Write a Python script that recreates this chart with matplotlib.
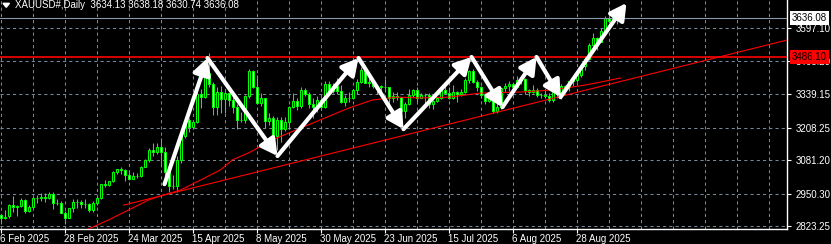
import matplotlib
matplotlib.use('Agg')
import matplotlib.pyplot as plt
import numpy as np
import pandas as pd

plt.rcParams['font.family'] = ['Liberation Sans', 'DejaVu Sans']

# daily bars, 6 Feb 2025 .. 12 Sep 2025 (no Good Friday bar)
dates = pd.bdate_range('2025-02-06', '2025-09-12')
dates = dates[dates != pd.Timestamp('2025-04-18')]

opens = [2866, 2856, 2862, 2908, 2898, 2904, 2928, 2882, 2898, 2935, 2934, 2939, 2935, 2951, 2914, 2916, 2876,
         2857, 2893, 2918, 2919, 2910, 2910, 2888, 2916, 2934, 2988, 2984, 3001, 3034, 3048, 3044, 3023, 3010, 3019,
         3018, 3056, 3084, 3123, 3113, 3133, 3113, 3037, 2982, 2982, 3082, 3175, 3237, 3210, 3230, 3342, 3327, 3424,
         3381, 3288, 3349, 3319, 3343, 3317, 3288, 3238, 3240, 3333, 3430, 3366, 3306, 3325, 3235, 3248, 3178, 3240,
         3202, 3230, 3290, 3314, 3294, 3357, 3342, 3301, 3288, 3318, 3289, 3381, 3353, 3373, 3352, 3310, 3326, 3323,
         3355, 3387, 3433, 3385, 3389, 3370, 3370, 3368, 3368, 3323, 3333, 3328, 3274, 3303, 3338, 3357, 3326, 3337,
         3336, 3301, 3313, 3324, 3355, 3343, 3324, 3348, 3339, 3350, 3397, 3431, 3387, 3368, 3337, 3314, 3326, 3274,
         3290, 3362, 3373, 3380, 3369, 3397, 3398, 3355, 3348, 3356, 3335, 3336, 3332, 3315, 3348, 3339, 3372, 3366,
         3393, 3396, 3416, 3448, 3476, 3533, 3560, 3545, 3586, 3637, 3626, 3641, 3634.13]
highs = [2870, 2886, 2911, 2942, 2908, 2935, 2930, 2906, 2935, 2947, 2954, 2952, 2956, 2956, 2930, 2922, 2882,
         2896, 2929, 2930, 2926, 2930, 2915, 2922, 2940, 2990, 3005, 3002, 3038, 3049, 3057, 3048, 3035, 3036, 3033,
         3059, 3087, 3128, 3149, 3148, 3167, 3135, 3055, 3023, 3099, 3176, 3245, 3245, 3233, 3357, 3358, 3430, 3500,
         3386, 3367, 3371, 3351, 3344, 3328, 3300, 3269, 3336, 3437, 3435, 3414, 3346, 3325, 3265, 3253, 3252, 3252,
         3250, 3295, 3345, 3325, 3366, 3365, 3350, 3325, 3331, 3325, 3393, 3392, 3385, 3403, 3375, 3338, 3349, 3360,
         3398, 3446, 3452, 3403, 3395, 3375, 3375, 3398, 3369, 3347, 3350, 3329, 3310, 3358, 3358, 3366, 3345, 3343,
         3345, 3318, 3330, 3369, 3375, 3366, 3377, 3352, 3361, 3402, 3433, 3438, 3394, 3373, 3345, 3334, 3334, 3315,
         3363, 3385, 3390, 3385, 3409, 3400, 3404, 3358, 3375, 3365, 3345, 3358, 3345, 3350, 3351, 3379, 3376, 3393,
         3398, 3423, 3454, 3490, 3540, 3578, 3564, 3600, 3646, 3674, 3658, 3644, 3638.18]
lows = [2834, 2853, 2854, 2880, 2864, 2899, 2876, 2880, 2896, 2915, 2922, 2918, 2929, 2890, 2905, 2875, 2832,
        2856, 2880, 2895, 2895, 2895, 2880, 2881, 2906, 2930, 2977, 2982, 2997, 3028, 3028, 2999, 3003, 3008, 3013,
        3016, 3055, 3076, 3100, 3105, 3054, 3015, 2956, 2970, 2957, 3072, 3168, 3193, 3205, 3228, 3284, 3326, 3367,
        3260, 3260, 3266, 3268, 3295, 3268, 3202, 3229, 3226, 3323, 3365, 3300, 3292, 3207, 3219, 3171, 3121, 3154,
        3196, 3204, 3285, 3277, 3287, 3331, 3285, 3245, 3270, 3279, 3285, 3343, 3343, 3339, 3306, 3293, 3311, 3320,
        3341, 3385, 3385, 3366, 3363, 3340, 3340, 3347, 3295, 3311, 3317, 3255, 3247, 3296, 3329, 3311, 3324, 3296,
        3287, 3283, 3310, 3322, 3341, 3320, 3320, 3310, 3333, 3345, 3383, 3382, 3351, 3325, 3301, 3308, 3268, 3268,
        3280, 3347, 3353, 3358, 3366, 3378, 3341, 3331, 3345, 3330, 3325, 3323, 3311, 3311, 3325, 3322, 3351, 3352,
        3371, 3386, 3408, 3436, 3475, 3526, 3511, 3543, 3578, 3620, 3620, 3613, 3630.74]
closes = [2856, 2861, 2908, 2898, 2904, 2928, 2882, 2898, 2935, 2934, 2939, 2935, 2951, 2914, 2916, 2876, 2857,
          2893, 2918, 2919, 2910, 2910, 2888, 2916, 2934, 2988, 2984, 3001, 3034, 3048, 3044, 3023, 3010, 3019, 3018,
          3056, 3084, 3123, 3113, 3133, 3113, 3037, 2982, 2982, 3082, 3175, 3237, 3210, 3230, 3342, 3327, 3424, 3381,
          3288, 3349, 3319, 3343, 3317, 3288, 3238, 3240, 3333, 3430, 3366, 3306, 3325, 3235, 3248, 3178, 3240, 3202,
          3230, 3290, 3314, 3294, 3357, 3342, 3301, 3288, 3318, 3289, 3381, 3353, 3373, 3352, 3310, 3326, 3323, 3355,
          3387, 3433, 3385, 3389, 3370, 3370, 3368, 3368, 3323, 3333, 3328, 3274, 3303, 3338, 3357, 3326, 3337, 3336,
          3301, 3313, 3324, 3355, 3343, 3324, 3348, 3339, 3350, 3397, 3431, 3387, 3368, 3337, 3314, 3326, 3274, 3290,
          3362, 3373, 3380, 3369, 3397, 3398, 3355, 3348, 3356, 3335, 3336, 3332, 3315, 3348, 3339, 3372, 3366, 3393,
          3396, 3416, 3448, 3476, 3533, 3560, 3545, 3586, 3637, 3626, 3641, 3634, 3636.08]

# moving average (bar index, price)
ma_idx = [21, 27, 32, 37, 40, 45, 50, 55, 58, 62, 69, 75, 81, 87, 93, 99, 105, 112, 120, 130, 138, 146, 150, 155]
ma_val = [2806, 2848, 2887, 2926, 2942, 2965, 3004, 3044, 3083, 3110, 3168, 3207, 3246, 3285, 3317, 3328, 3325,
          3328, 3344, 3348, 3356, 3375, 3387, 3403]

# trend line ray
trend_idx = [30.75, 196.6]
trend_val = [2906, 3551]

# hand-drawn zigzag arrows
zig_idx = [41, 51.75, 69.25, 89.5, 100.75, 117.75, 125.5, 134, 140, 156.5]
zig_val = [2988, 3481, 3098, 3481, 3203, 3485, 3289, 3485, 3328, 3696]

level = 3486.10
last_price = 3636.08
yticks = [2823.25, 2950.30, 3081.20, 3208.25, 3339.15, 3468.20, 3597.10]
xtick_labels = ['6 Feb 2025', '28 Feb 2025', '24 Mar 2025', '15 Apr 2025', '8 May 2025',
                '30 May 2025', '23 Jun 2025', '15 Jul 2025', '6 Aug 2025', '28 Aug 2025']
title = 'XAUUSD#,Daily  3634.13 3638.18 3630.74 3636.08'

green = '#00ff00'
grid_c = '#778899'

fig = plt.figure(figsize=(8.31, 2.44), dpi=100, facecolor='black')
ax = fig.add_axes([0, 15 / 244, 787 / 831, 229 / 244], facecolor='black')

x = np.arange(len(dates))
ax.set_xlim(-0.125, 196.625)
ax.set_ylim(2812.8, 3707.7)

# grid
for gx in np.arange(0, 197, 8):
    ax.axvline(gx, color=grid_c, lw=0.75, ls=(0, (3, 3)), zorder=0.5)
for gy in yticks:
    ax.axhline(gy, color=grid_c, lw=0.75, ls=(0, (3, 3)), zorder=0.5)

# candles
o = np.array(opens)
c = np.array(closes)
up = c >= o
ax.vlines(x, lows, highs, color=green, lw=0.75, zorder=2)
ax.bar(x, np.abs(c - o), bottom=np.minimum(o, c), width=0.5,
       color=np.where(up, 'black', 'white'), edgecolor=green, linewidth=0.75, zorder=3)

# indicator lines
ax.plot(ma_idx, ma_val, color='red', lw=0.8, zorder=4)
ax.plot(trend_idx, trend_val, color='red', lw=0.8, zorder=4)
ax.axhline(level, color='red', lw=1.2, zorder=4)
ax.axhline(last_price, color='#8a98a8', lw=0.8, zorder=4)

# arrows
for k in range(len(zig_idx) - 1):
    ax.annotate('', xy=(zig_idx[k + 1], zig_val[k + 1]), xytext=(zig_idx[k], zig_val[k]),
                arrowprops=dict(arrowstyle='-|>,head_length=0.7,head_width=0.38', color='white',
                                lw=3, shrinkA=0, shrinkB=0, mutation_scale=14), zorder=6)

# axes styling
for s in ['top', 'left']:
    ax.spines[s].set_visible(False)
for s in ['right', 'bottom']:
    ax.spines[s].set_color('white')
    ax.spines[s].set_linewidth(1)

ax.yaxis.tick_right()
ax.set_yticks(yticks)
ax.set_yticklabels(['%.2f' % v for v in yticks])
ax.tick_params(axis='y', colors='white', length=3, width=0.8, pad=3, labelsize=7)

tick_pos = [dates.get_loc(pd.to_datetime(t, format='%d %b %Y')) for t in xtick_labels]
ax.set_xticks(tick_pos)
ax.set_xticklabels(xtick_labels, ha='left')
ax.tick_params(axis='x', colors='white', length=3, width=0.8, pad=0.5, labelsize=7)

# price boxes on the scale
ax.text(1.006, last_price, '%.2f' % last_price, transform=ax.get_yaxis_transform(), ha='left', va='center',
        fontsize=7, color='black', clip_on=False, zorder=8,
        bbox=dict(facecolor='white', edgecolor='none', pad=1.3))
ax.text(1.006, level, '%.2f' % level, transform=ax.get_yaxis_transform(), ha='left', va='center',
        fontsize=7, color='black', clip_on=False, zorder=8,
        bbox=dict(facecolor='red', edgecolor='none', pad=1.3))

# header
fig.text(15 / 831, 1 - 5 / 244, title, color='white', fontsize=7, va='center', ha='left')
fig.add_artist(plt.Polygon([[3 / 831, 1 - 3.3 / 244], [9.5 / 831, 1 - 3.3 / 244], [6.25 / 831, 1 - 7.3 / 244]],
                           closed=True, color='white', transform=fig.transFigure))

fig.savefig('out.png', dpi=100, facecolor='black')
